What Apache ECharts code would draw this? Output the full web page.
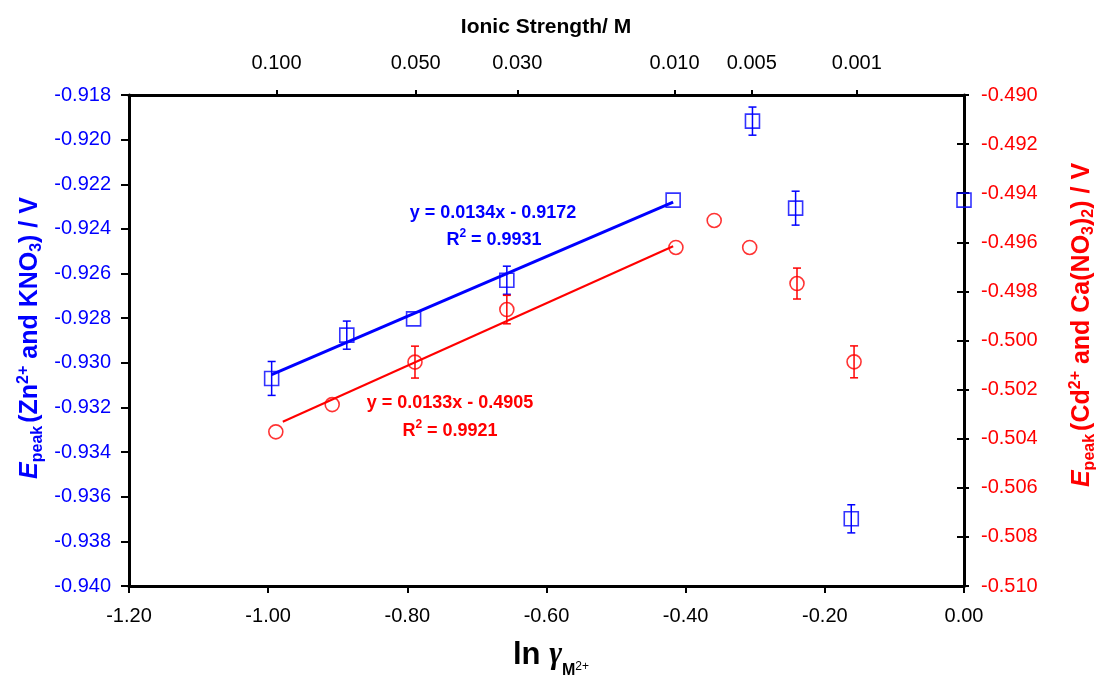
<!DOCTYPE html>
<html>
<head>
<meta charset="utf-8">
<script src="https://cdn.jsdelivr.net/npm/echarts@6/dist/echarts.min.js"></script>
<style>
html,body{margin:0;padding:0;background:#fff;}
#chart{width:1096px;height:678px;}
</style>
</head>
<body>
<div id="chart"></div>
<script>
// ---- data ----
// Zn2+ in KNO3 (left axis)
const lnGammaZn = [-0.995, -0.887, -0.791, -0.657, -0.418, -0.304, -0.242, -0.162, 0.000];
const ePeakZn   = [-0.93070, -0.92876, -0.92803, -0.92630, -0.92271, -0.91917, -0.92307, -0.93699, -0.92271];
const errZn     = [0.00076, 0.00063, 0, 0.00063, 0, 0.00063, 0.00076, 0.00063, 0];
// Cd2+ in Ca(NO3)2 (right axis)
const lnGammaCd = [-0.989, -0.908, -0.789, -0.657, -0.414, -0.359, -0.308, -0.240, -0.158];
const ePeakCd   = [-0.50372, -0.50261, -0.50088, -0.49874, -0.49621, -0.49511, -0.49621, -0.49768, -0.50087];
const errCd     = [0, 0, 0.00065, 0.00058, 0, 0, 0, 0.00063, 0.00065];
// linear trend lines (end points as drawn)
const trendZnX = [-0.995, -0.418];
const trendZnY = [-0.93053, -0.92280];
const trendCdX = [-0.979, -0.418];
const trendCdY = [-0.50331, -0.49616];
// top axis: ionic strength tick positions (in ln gamma units) and labels
const topTickX = [-0.988, -0.788, -0.642, -0.416, -0.305, -0.154];
const topTickLabels = ['0.100', '0.050', '0.030', '0.010', '0.005', '0.001'];
// equations
const eqZn = ['y = 0.0134x - 0.9172', '0.9931'];
const eqCd = ['y = 0.0133x - 0.4905', '0.9921'];

const BLUE = '#0000FF', RED = '#FF0000';
const FONT = '"Liberation Sans", Arial, Helvetica, sans-serif';

function pairs(xs, ys) { return xs.map((x, i) => [x, ys[i]]); }
function errData(xs, ys, es) {
  const out = [];
  xs.forEach((x, i) => { if (es[i] > 0) out.push([x, ys[i], es[i]]); });
  return out;
}
function errRender(color) {
  return function (params, api) {
    const x = api.value(0), y = api.value(1), e = api.value(2);
    const t = api.coord([x, y + e]);
    const b = api.coord([x, y - e]);
    const hw = 4;
    const st = { stroke: color, lineWidth: 1.5, fill: null };
    return {
      type: 'group',
      children: [
        { type: 'line', shape: { x1: t[0], y1: t[1], x2: b[0], y2: b[1] }, style: st },
        { type: 'line', shape: { x1: t[0] - hw, y1: t[1], x2: t[0] + hw, y2: t[1] }, style: st },
        { type: 'line', shape: { x1: b[0] - hw, y1: b[1], x2: b[0] + hw, y2: b[1] }, style: st }
      ]
    };
  };
}
function topLabel(v) {
  for (let i = 0; i < topTickX.length; i++) {
    if (Math.abs(topTickX[i] - v) < 1e-6) return topTickLabels[i];
  }
  return '';
}

const axisLineStyle = { color: '#000', width: 3 };
const tickStyle = { color: '#000', width: 2 };

const chart = echarts.init(document.getElementById('chart'), null, { renderer: 'canvas' });
const gridBox = { left: 129, top: 95, width: 835, height: 491 };

const option = {
  animation: false,
  backgroundColor: '#fff',
  grid: [
    Object.assign({ containLabel: false }, gridBox),
    Object.assign({ containLabel: false }, gridBox)
  ],
  xAxis: [
    {
      type: 'value', gridIndex: 0, position: 'bottom', min: -1.2, max: 0, interval: 0.2,
      axisLine: { show: true, onZero: false, lineStyle: axisLineStyle },
      axisTick: { show: true, inside: false, length: 7, lineStyle: tickStyle },
      axisLabel: { color: '#000', fontSize: 20, fontFamily: FONT, margin: 20, formatter: v => v.toFixed(2) },
      splitLine: { show: false }
    },
    {
      type: 'value', gridIndex: 0, position: 'top', min: -1.2, max: 0,
      axisLine: { show: true, onZero: false, lineStyle: axisLineStyle },
      axisTick: { show: true, inside: false, length: 5, customValues: topTickX, lineStyle: tickStyle },
      axisLabel: { color: '#000', fontSize: 20, fontFamily: FONT, margin: 22, customValues: topTickX, formatter: topLabel },
      splitLine: { show: false }
    },
    { type: 'value', gridIndex: 1, min: -1.2, max: 0, show: false }
  ],
  yAxis: [
    {
      type: 'value', gridIndex: 0, position: 'left', min: -0.940, max: -0.918, interval: 0.002,
      axisLine: { show: true, onZero: false, lineStyle: axisLineStyle },
      axisTick: { show: true, inside: false, length: 8, lineStyle: tickStyle },
      axisLabel: { color: BLUE, fontSize: 20, fontFamily: FONT, margin: 18, formatter: v => v.toFixed(3) },
      splitLine: { show: false }
    },
    {
      type: 'value', gridIndex: 0, position: 'right', min: -0.510, max: -0.490, interval: 0.002,
      axisLine: { show: true, onZero: false, lineStyle: axisLineStyle },
      axisTick: { show: true, inside: false, length: 5, lineStyle: tickStyle },
      axisLabel: { color: RED, fontSize: 20, fontFamily: FONT, margin: 17, formatter: v => v.toFixed(3) },
      splitLine: { show: false }
    },
    {
      type: 'value', gridIndex: 1, position: 'right', min: -0.510, max: -0.490, interval: 0.002,
      axisLine: { show: false },
      axisTick: { show: true, inside: true, length: 7, lineStyle: tickStyle },
      axisLabel: { show: false },
      splitLine: { show: false }
    }
  ],
  series: [
    {
      name: 'Zn trend', type: 'line', xAxisIndex: 0, yAxisIndex: 0,
      data: pairs(trendZnX, trendZnY), showSymbol: false, symbol: 'none',
      lineStyle: { color: BLUE, width: 3 }, z: 3
    },
    {
      name: 'Cd trend', type: 'line', xAxisIndex: 0, yAxisIndex: 1,
      data: pairs(trendCdX, trendCdY), showSymbol: false, symbol: 'none',
      lineStyle: { color: RED, width: 2 }, z: 3
    },
    {
      name: 'Zn err', type: 'custom', xAxisIndex: 0, yAxisIndex: 0,
      dimensions: ['x', 'y', 'e'], encode: { x: 0, y: 1 },
      data: errData(lnGammaZn, ePeakZn, errZn), renderItem: errRender(BLUE), z: 4
    },
    {
      name: 'Cd err', type: 'custom', xAxisIndex: 0, yAxisIndex: 1,
      dimensions: ['x', 'y', 'e'], encode: { x: 0, y: 1 },
      data: errData(lnGammaCd, ePeakCd, errCd), renderItem: errRender(RED), z: 4
    },
    {
      name: 'Zn2+ / KNO3', type: 'scatter', xAxisIndex: 0, yAxisIndex: 0,
      data: pairs(lnGammaZn, ePeakZn), symbol: 'rect', symbolSize: 14, clip: false,
      itemStyle: { color: 'rgba(0,0,0,0)', borderColor: BLUE, borderWidth: 1.6 }, z: 5
    },
    {
      name: 'Cd2+ / Ca(NO3)2', type: 'scatter', xAxisIndex: 0, yAxisIndex: 1,
      data: pairs(lnGammaCd, ePeakCd), symbol: 'circle', symbolSize: 14, clip: false,
      itemStyle: { color: 'rgba(0,0,0,0)', borderColor: RED, borderWidth: 1.6 }, z: 5
    }
  ],
  graphic: [
    {
      type: 'text', x: 546, y: 27, z: 10,
      style: { text: 'Ionic Strength/ M', fill: '#000', fontSize: 21, fontWeight: 'bold', fontFamily: FONT, align: 'center', verticalAlign: 'middle' }
    },
    {
      type: 'text', x: 551, y: 655, z: 10,
      style: {
        text: '{a|ln }{g|γ}{m|M}{s|2+}', align: 'center', verticalAlign: 'middle', fill: '#000',
        rich: {
          a: { fontSize: 31, fontWeight: 'bold', fontFamily: FONT, fill: '#000', verticalAlign: 'middle' },
          g: { fontSize: 31, fontWeight: 'bold', fontStyle: 'italic', fontFamily: '"Liberation Serif", "DejaVu Serif", serif', fill: '#000', verticalAlign: 'middle' },
          m: { fontSize: 16, fontWeight: 'bold', fontFamily: FONT, fill: '#000', padding: [32, 0, 0, 0], verticalAlign: 'middle' },
          s: { fontSize: 12, fontFamily: FONT, fill: '#000', padding: [24, 0, 0, 0], verticalAlign: 'middle' }
        }
      }
    },
    {
      type: 'text', x: 30, y: 338, rotation: Math.PI / 2, z: 10,
      style: {
        text: '{e|E}{sub|peak}{n|(Zn}{sup|2+}{n| and KNO}{sub2|3}{n|) / V}', align: 'center', verticalAlign: 'middle', fill: BLUE,
        rich: {
          e: { fontSize: 25, fontWeight: 'bold', fontStyle: 'italic', fontFamily: FONT, fill: BLUE, verticalAlign: 'middle' },
          sub: { fontSize: 16, fontWeight: 'bold', fontFamily: FONT, fill: BLUE, padding: [16, 3, 0, 0], verticalAlign: 'middle' },
          sub2: { fontSize: 16, fontWeight: 'bold', fontFamily: FONT, fill: BLUE, padding: [14, 0, 0, 0], verticalAlign: 'middle' },
          sup: { fontSize: 16, fontWeight: 'bold', fontFamily: FONT, fill: BLUE, padding: [0, 0, 12, 0], verticalAlign: 'middle' },
          n: { fontSize: 25, fontWeight: 'bold', fontFamily: FONT, fill: BLUE, verticalAlign: 'middle' }
        }
      }
    },
    {
      type: 'text', x: 1082, y: 325, rotation: Math.PI / 2, z: 10,
      style: {
        text: '{e|E}{sub|peak}{n|(Cd}{sup|2+}{n| and Ca(NO}{sub2|3}{n|)}{sub2|2}{n|) / V}', align: 'center', verticalAlign: 'middle', fill: RED,
        rich: {
          e: { fontSize: 25, fontWeight: 'bold', fontStyle: 'italic', fontFamily: FONT, fill: RED, verticalAlign: 'middle' },
          sub: { fontSize: 16, fontWeight: 'bold', fontFamily: FONT, fill: RED, padding: [16, 3, 0, 0], verticalAlign: 'middle' },
          sub2: { fontSize: 16, fontWeight: 'bold', fontFamily: FONT, fill: RED, padding: [14, 0, 0, 0], verticalAlign: 'middle' },
          sup: { fontSize: 16, fontWeight: 'bold', fontFamily: FONT, fill: RED, padding: [0, 0, 12, 0], verticalAlign: 'middle' },
          n: { fontSize: 25, fontWeight: 'bold', fontFamily: FONT, fill: RED, verticalAlign: 'middle' }
        }
      }
    },
    {
      type: 'text', x: 493, y: 213, z: 10,
      style: { text: eqZn[0], fill: BLUE, fontSize: 18, fontWeight: 'bold', fontFamily: FONT, align: 'center', verticalAlign: 'middle' }
    },
    {
      type: 'text', x: 494, y: 240, z: 10,
      style: {
        text: '{r|R}{p|2}{r| = ' + eqZn[1] + '}', align: 'center', verticalAlign: 'middle', fill: BLUE,
        rich: {
          r: { fontSize: 18, fontWeight: 'bold', fontFamily: FONT, fill: BLUE, verticalAlign: 'middle' },
          p: { fontSize: 12, fontWeight: 'bold', fontFamily: FONT, fill: BLUE, padding: [0, 0, 12, 0], verticalAlign: 'middle' }
        }
      }
    },
    {
      type: 'text', x: 450, y: 403, z: 10,
      style: { text: eqCd[0], fill: RED, fontSize: 18, fontWeight: 'bold', fontFamily: FONT, align: 'center', verticalAlign: 'middle' }
    },
    {
      type: 'text', x: 450, y: 431, z: 10,
      style: {
        text: '{r|R}{p|2}{r| = ' + eqCd[1] + '}', align: 'center', verticalAlign: 'middle', fill: RED,
        rich: {
          r: { fontSize: 18, fontWeight: 'bold', fontFamily: FONT, fill: RED, verticalAlign: 'middle' },
          p: { fontSize: 12, fontWeight: 'bold', fontFamily: FONT, fill: RED, padding: [0, 0, 12, 0], verticalAlign: 'middle' }
        }
      }
    }
  ]
};
chart.setOption(option);
</script>
</body>
</html>
